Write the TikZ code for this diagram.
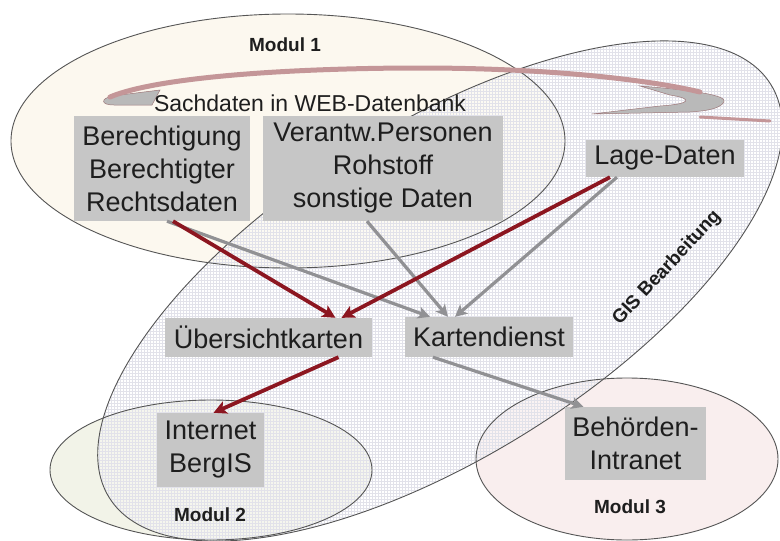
\documentclass[tikz,border=0pt]{standalone}
\usepackage{fontspec}
\setmainfont{Liberation Sans}
\usetikzlibrary{arrows.meta,patterns}
\definecolor{boxgray}{RGB}{198,198,198}
\definecolor{txt}{RGB}{30,30,30}
\definecolor{edge}{RGB}{85,85,85}
\definecolor{creamfill}{RGB}{252,248,239}
\definecolor{greenfill}{RGB}{242,243,232}
\definecolor{pinkfill}{RGB}{249,238,238}
\definecolor{gridcol}{RGB}{226,226,234}
\definecolor{redarr}{RGB}{140,22,32}
\definecolor{grayarr}{RGB}{145,145,148}
\definecolor{bandpink}{RGB}{196,150,152}
\definecolor{bandgray}{RGB}{185,185,185}
\begin{document}
\begin{tikzpicture}[x=1pt,y=-1pt,
  databox/.style={fill=boxgray, text=txt, align=center, inner sep=0pt,
    font=\fontsize{27}{33}\selectfont},
  modlabel/.style={text=txt, font=\bfseries\fontsize{19}{22}\selectfont},
  ellline/.style={draw=edge, line width=0.9pt},
  redline/.style={draw=redarr, line width=3.8pt,
    -{Stealth[length=13pt,width=13pt,inset=3pt]}},
  grayline/.style={draw=grayarr, line width=3.2pt,
    -{Stealth[length=12pt,width=12pt,inset=3pt]}}]
\useasboundingbox (0,0) rectangle (780,541);
\fill[white] (0,0) rectangle (780,541);
% ellipse fills
\fill[creamfill] (288,141) ellipse [x radius=277pt, y radius=127pt];
\fill[greenfill] (211,470) ellipse [x radius=161pt, y radius=70pt];
\fill[pinkfill] (627,459) ellipse [x radius=151pt, y radius=81pt];
\begin{scope}[shift={(440,291)}, rotate=32]
  \fill[white, opacity=0.3] (0,0) ellipse [x radius=390pt, y radius=166pt];
  \fill[pattern=grid, pattern color=gridcol] (0,0) ellipse [x radius=390pt, y radius=166pt];
  \draw[ellline] (0,0) ellipse [x radius=390pt, y radius=166pt];
\end{scope}
\draw[ellline] (288,141) ellipse [x radius=277pt, y radius=127pt];
\draw[ellline] (211,470) ellipse [x radius=161pt, y radius=70pt];
\draw[ellline] (627,459) ellipse [x radius=151pt, y radius=81pt];
% curved band arrow
\fill[bandgray, draw=bandpink!80!black, line width=0.5pt]
  (160,90) -- (112,96) .. controls (100,99) and (101,105) .. (114,105) -- (152,105) -- cycle;
\fill[bandgray, draw=bandpink!80!black, line width=0.5pt]
  (640,86) .. controls (690,90) and (728,95) .. (724,102)
  .. controls (720,109) and (705,111) .. (690,112) -- (592,114)
  -- (660,106) .. controls (690,104) and (695,99) .. (670,95) -- cycle;
\draw[bandpink, line width=5pt, line cap=round]
  (110,97) .. controls (160,76) and (300,68) .. (420,68)
  .. controls (550,68) and (650,80) .. (700,92);
\draw[bandpink, line width=3pt, line cap=round] (700,117) -- (770,121);
\node[text=txt, font=\fontsize{23}{26}\selectfont] (sach) at (310,103) {Sachdaten in WEB-Datenbank};
% boxes
\node[databox, minimum width=176pt, minimum height=105pt] (ber) at (162,168.5)
  {Berechtigung\\Berechtigter\\Rechtsdaten};
\node[databox, minimum width=240pt, minimum height=105pt] (ver) at (383,168.5)
  {Verantw.Personen\\Rohstoff\\sonstige Daten};
\node[databox, minimum width=158pt, minimum height=37pt] (lage) at (665,158.5) {Lage-Daten};
\node[databox, minimum width=207pt, minimum height=39pt] (ueb) at (268.5,337.5) {Übersichtkarten};
\node[databox, minimum width=168pt, minimum height=40pt] (kart) at (489,337) {Kartendienst};
\node[databox, minimum width=107pt, minimum height=74pt] (inet) at (210.5,450) {Internet\\BergIS};
\node[databox, minimum width=141pt, minimum height=73pt] (beh) at (635.5,443.5) {Behörden-\\Intranet};
% labels
\node[modlabel] (m1) at (285,45) {Modul 1};
\node[modlabel] (m2) at (210,515) {Modul 2};
\node[modlabel] (m3) at (630,507) {Modul 3};
\node[text=txt, rotate=47, font=\bfseries\fontsize{19}{21}\selectfont] (gis) at (667,268) {GIS Bearbeitung};
% arrows
\draw[grayline] ([xshift=5pt]ber.south) -- ([xshift=-59pt]kart.north);
\draw[grayline] ([xshift=-16pt]ver.south) -- ([xshift=-41pt]kart.north);
\draw[grayline] ([xshift=-48pt]lage.south) -- ([xshift=-34pt]kart.north);
\draw[grayline] ([xshift=-56pt]kart.south) -- ([xshift=-52pt]beh.north);
\draw[redline] ([xshift=11pt]ber.south) -- ([xshift=67pt]ueb.north);
\draw[redline] ([xshift=-55pt]lage.south) -- ([xshift=73pt]ueb.north);
\draw[redline] ([xshift=70pt]ueb.south) -- ([xshift=3pt]inet.north);
\end{tikzpicture}
\end{document}
